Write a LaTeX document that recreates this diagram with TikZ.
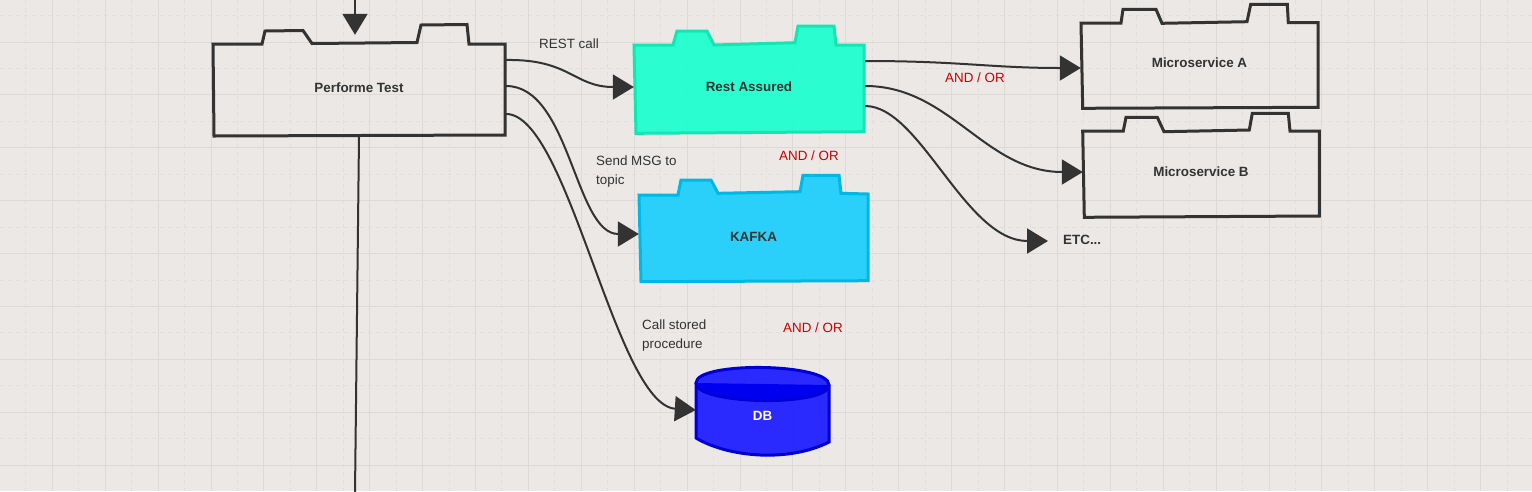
\documentclass[tikz,border=0pt]{standalone}
\usepackage{fontspec}
\setmainfont{Liberation Sans}
\usetikzlibrary{arrows.meta,calc}
\definecolor{bgc}{RGB}{235,232,229}
\definecolor{gridmaj}{RGB}{220,217,214}
\definecolor{gridmin}{RGB}{225,222,219}
\definecolor{ink}{RGB}{51,51,51}
\definecolor{andorc}{RGB}{204,0,0}
\definecolor{rafill}{RGB}{36,255,208}
\definecolor{radraw}{RGB}{18,230,180}
\definecolor{kfill}{RGB}{36,208,250}
\definecolor{kdraw}{RGB}{0,184,228}
\definecolor{dbfill}{RGB}{36,36,255}
\definecolor{dbtop}{RGB}{0,0,240}
\definecolor{dbdraw}{RGB}{0,0,214}
\begin{document}
\begin{tikzpicture}[x=1pt,y=-1pt,
  txt/.style={font=\fontsize{13.4}{19}\selectfont, text=ink, inner sep=0pt},
  boldtxt/.style={font=\fontsize{13.4}{19}\selectfont\bfseries, text=ink, inner sep=0pt},
  boxnode/.style={boldtxt, draw=none},
  folder/.style={draw=ink, line width=3pt},
  conn/.style={draw=ink, line width=2pt, -{Triangle[length=21pt,width=25pt]}},
  redtxt/.style={txt, text=andorc},
  notetxt/.style={txt, align=left, anchor=north west},
]
\useasboundingbox (0,0) rectangle (1532,491);
\fill[bgc] (0,0) rectangle (1532,491);
% grid
\foreach \i in {0,...,29} {
  \draw[gridmin, line width=1pt, dash pattern=on 4pt off 4pt] ({25.85+52.9*\i},0) -- ++(0,491);
}
\foreach \j in {0,...,8} {
  \draw[gridmin, line width=1pt, dash pattern=on 4pt off 4pt] (0,{15.5+52.9*\j}) -- ++(1532,0);
}
\foreach \i in {0,...,28} {
  \draw[gridmaj, line width=1pt] ({52.3+52.9*\i},0) -- ++(0,491);
}
\foreach \j in {0,...,8} {
  \draw[gridmaj, line width=1pt] (0,{42+52.9*\j}) -- ++(1532,0);
}

% Performe Test outline
\draw[folder] (213,44) -- (262,44) -- (265,31) -- (303,30.5) -- (312,43.5) -- (417,42.5) -- (421,25) -- (467,24.5) -- (469,44) -- (505,44) -- (505,135) -- (214,136) -- cycle;
% Rest Assured outline
\draw[draw=radraw, fill=rafill, fill opacity=0.97, line width=3pt] (634,45) -- (673,45) -- (677,31) -- (707,31) -- (714,45) -- (795,42.7) -- (798,26) -- (834,26) -- (836,45) -- (864,45) -- (864,131.7) -- (636,133.3) -- cycle;
% KAFKA outline
\draw[draw=kdraw, fill=kfill, fill opacity=0.97, line width=3pt] (639,195) -- (678,195) -- (681,180) -- (711,180) -- (718,193.3) -- (800,191.7) -- (803,175.3) -- (839,175.3) -- (841,193.3) -- (868,194) -- (868,280.7) -- (641,281.7) -- cycle;
% Microservice A outline
\draw[folder] (1081,23) -- (1121,23) -- (1123,9.3) -- (1156,9.3) -- (1162,23.3) -- (1247,21.7) -- (1250.7,4.3) -- (1287.3,4.3) -- (1288.3,22.7) -- (1318,22.7) -- (1318,107.3) -- (1082.7,108.3) -- cycle;
% Microservice B outline
\draw[folder] (1082.7,131) -- (1123.3,131) -- (1126,117.3) -- (1157.3,117.3) -- (1164,131.7) -- (1249.3,130) -- (1252.3,113.3) -- (1288.3,113.3) -- (1290,131) -- (1319.3,131) -- (1319.3,216) -- (1084.3,217.3) -- cycle;
% DB cylinder
\fill[dbfill, fill opacity=0.97] (696,383) -- (696,438) .. controls (730,458) and (790,462) .. (829,442) -- (829,385) .. controls (829,363) and (696,361) .. (696,383) -- cycle;
\fill[dbtop] (696,383) .. controls (696,405) and (829,407) .. (829,385) -- cycle;
\draw[dbdraw, line width=3pt] (696,383) -- (696,438) .. controls (730,458) and (790,462) .. (829,442) -- (829,385);
\draw[dbdraw, line width=3pt] (696,383) .. controls (696,361) and (829,363) .. (829,385) .. controls (829,407) and (696,405) .. (696,383) -- cycle;

% nodes
\node[boxnode, minimum width=292pt, minimum height=92pt] (pt) at (359,88) {Performe Test};
\node[boxnode, minimum width=230pt, minimum height=86pt] (ra) at (749,87) {Rest Assured};
\node[boxnode, minimum width=229pt, minimum height=86pt] (kafka) at (753.5,237) {KAFKA};
\node[boxnode, minimum width=237pt, minimum height=84pt] (msa) at (1199.5,63) {Microservice A};
\node[boxnode, minimum width=236pt, minimum height=84pt] (msb) at (1201,172) {Microservice B};
\node[boxnode, text=white, minimum width=133pt, minimum height=78pt] (db) at (762.5,416) {DB};
\node[boldtxt, anchor=west] (etc) at (1063,240) {ETC...};

\node[txt, anchor=west] (restcall) at (539,44) {REST call};
\node[notetxt] (sendmsg) at (596,156) {Send MSG to\\topic};
\node[notetxt] (callsp) at (642,320) {Call stored\\procedure};
\node[redtxt] (ao1) at (975,78) {AND / OR};
\node[redtxt] (ao2) at (809,156) {AND / OR};
\node[redtxt] (ao3) at (813,328) {AND / OR};

% connectors
\coordinate (topin) at (355,-2);
\coordinate (botout) at (355,493);
\draw[conn] (topin) -- ($(pt.north)+(-4,-7)$);
\draw[ink, line width=2pt] ($(pt.south)+(0,2)$) -- (botout);

\draw[conn] ($(pt.east)+(1,-28)$) .. controls +(64,-1) and +(-60,0) .. (ra.west);
\draw[conn] ($(pt.east)+(1,-2)$) .. controls +(64,0) and +(-64,0) .. ($(kafka.west)+(0,-3)$);
\draw[conn] ($(pt.east)+(1,26)$) .. controls +(62,0) and +(-80,-5) .. ($(db.west)+(0,-6)$);

\draw[conn] ($(ra.east)+(1,-26)$) .. controls +(95,0) and +(-90,0) .. ($(msa.west)+(0,5)$);
\draw[conn] ($(ra.east)+(1,-1)$) .. controls +(85,0) and +(-98,0) .. (msb.west);
\draw[conn] ($(ra.east)+(1,19)$) .. controls +(55,0) and +(-83,0) .. ($(etc.west)+(-15,1)$);
\end{tikzpicture}
\end{document}
